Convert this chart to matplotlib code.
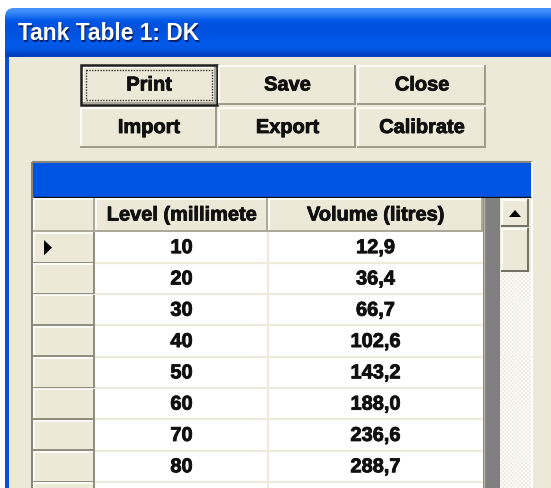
import numpy as np
import matplotlib.pyplot as plt
import matplotlib.patheffects as pe
from matplotlib.colors import LinearSegmentedColormap, ListedColormap
from matplotlib.patches import Rectangle, FancyBboxPatch, Polygon

# table contents
button_labels = [["Print", "Save", "Close"],
                 ["Import", "Export", "Calibrate"]]
col_headers = ["Level (millimete", "Volume (litres)"]
levels = [10, 20, 30, 40, 50, 60, 70, 80]
volumes = [12.9, 36.4, 66.7, 102.6, 143.2, 188.0, 236.6, 288.7]
title = "Tank Table 1: DK"

BEIGE = '#ECE9D8'
SHADOW = '#ACA899'
DARK = '#716F64'
BLUE = '#0054E3'
GRIDLINE = '#EEEBDD'
INK = '#101010'
heavy = [pe.withStroke(linewidth=0.6, foreground=INK)]

plt.rcParams['font.family'] = ['Liberation Sans', 'DejaVu Sans']

fig = plt.figure(figsize=(5.51, 4.88), dpi=100)
ax = fig.add_axes([0, 0, 1, 1])
ax.set_xlim(0, 551)
ax.set_ylim(488, 0)
ax.axis('off')


# everything on zorder 1 so it is painted in the order it is added
def hline(x0, x1, y, c, lw=1.0):
    ax.plot([x0, x1], [y, y], color=c, lw=lw, solid_capstyle='butt', zorder=1)


def vline(x, y0, y1, c, lw=1.0):
    ax.plot([x, x], [y0, y1], color=c, lw=lw, solid_capstyle='butt', zorder=1)


def box3d(x0, y0, x1, y1, fill=BEIGE, dark=SHADOW):
    ax.add_patch(Rectangle((x0, y0), x1 - x0, y1 - y0, fc=fill, ec='none'))
    hline(x0, x1, y0 + 0.8, 'white', 1.2)
    vline(x0 + 0.8, y0, y1, 'white', 1.2)
    hline(x0, x1, y1 - 0.8, dark, 1.4)
    vline(x1 - 0.8, y0, y1, dark, 1.4)


def label(x, y, s):
    ax.text(x, y, s, fontsize=14.4, fontweight='bold', ha='center',
            va='center', color=INK, path_effects=heavy)


# window background
ax.add_patch(Rectangle((0, 0), 551, 488, fc='white', ec='none'))
ax.add_patch(Rectangle((5, 40), 546, 448, fc=BEIGE, ec='none'))
ax.add_patch(Rectangle((5, 40), 4, 448, fc='#0A4FD8', ec='none'))

# title bar with gradient and rounded corner
grad = np.array([[0.95], [0.75], [0.5], [0.42], [0.42], [0.45], [0.5], [0.52],
                 [0.45], [0.2]])
cmap = LinearSegmentedColormap.from_list('xp', ['#0030A8', '#0058E8', '#4A98FA'])
clip = FancyBboxPatch((5, 8), 600, 80, boxstyle='round,pad=0,rounding_size=9',
                      fc='none', ec='none')
ax.add_patch(clip)
im = ax.imshow(grad, extent=(5, 560, 57, 8), aspect='auto', cmap=cmap,
               vmin=0, vmax=1, interpolation='bilinear', zorder=1)
im.set_clip_path(clip)
ax.text(19.2, 35.2, title, color='#0A1E6A', fontsize=16.4, fontweight='bold',
        va='center', ha='left')
ax.text(18, 34, title, color='white', fontsize=16.4, fontweight='bold',
        va='center', ha='left')

# buttons
btn_x = [80, 218, 357, 487]
btn_y = [64, 106, 149]
for r, row in enumerate(button_labels):
    for c, lab in enumerate(row):
        x0, x1 = btn_x[c], btn_x[c + 1]
        y0, y1 = btn_y[r], btn_y[r + 1]
        if r == 0 and c == 0:
            box3d(x0 + 2, y0 + 2, x1 - 2, y1 - 2, dark=SHADOW)
            ax.add_patch(Rectangle((x0 + 0.8, y0 + 0.8), x1 - x0 - 2, y1 - y0 - 2,
                                   fc='none', ec='#202020', lw=1.8))
            ax.add_patch(Rectangle((x0 + 6, y0 + 6), x1 - x0 - 12, y1 - y0 - 12,
                                   fc='none', ec='#333333', lw=1.0,
                                   ls=(0, (1, 1))))
        else:
            box3d(x0, y0 + 1, x1 - 1, y1 - 1, dark='#9D9A8A')
        label((x0 + x1) / 2, (y0 + y1) / 2, lab)

# grid outer frame and blue band
gx0, gx1 = 32, 532
ax.add_patch(Rectangle((gx0, 162), gx1 - gx0, 330, fc='white', ec='none'))
hline(gx0, gx1, 162, '#8A877A', 1.5)
vline(gx0, 162, 488, '#8A877A', 1.5)
vline(gx1, 162, 488, 'white', 1.5)
ax.add_patch(Rectangle((gx0 + 1, 163), 498, 34, fc=BLUE, ec='none'))
hline(gx0 + 1, 531, 197, INK, 1.0)

# columns and rows
cx = [33, 95, 268, 483]
row_top = 232
row_h = 31.3
n_rows = len(levels) + 1

# header row
box3d(cx[0], 198, cx[1], row_top)
for i, h in enumerate(col_headers):
    box3d(cx[i + 1], 198, cx[i + 2], row_top)
    label((cx[i + 1] + cx[i + 2]) / 2, 215, h)

# data rows
for k in range(n_rows):
    y0 = row_top + k * row_h
    y1 = y0 + row_h
    box3d(cx[0], y0, cx[1], y1, dark='#8F8C7E')
    hline(cx[1], cx[3], y1 - 0.5, GRIDLINE, 1.6)
    vline(cx[2], y0, y1, GRIDLINE, 1.6)
    if k < len(levels):
        yc = (y0 + y1) / 2
        label((cx[1] + cx[2]) / 2, yc, str(levels[k]))
        label((cx[2] + cx[3]) / 2, yc, f"{volumes[k]:.1f}".replace('.', ','))
    if k == 0:
        ax.add_patch(Polygon([[44, y0 + 8], [44, y1 - 8], [52, (y0 + y1) / 2]],
                             closed=True, fc='black', ec='none'))

# grey strip right of the last column
ax.add_patch(Rectangle((483, 198), 17, 300, fc='#808080', ec='none'))
vline(483.5, 198, 488, '#B8B5A8', 1.0)

# scrollbar
chk = np.indices((110, 16)).sum(axis=0) % 2
ax.imshow(chk, extent=(500, 531, 488, 272),
          cmap=ListedColormap(['#EFEDE3', '#FCFCFA']),
          interpolation='nearest', aspect='auto', zorder=1)
ax.add_patch(Rectangle((500, 198), 31, 74, fc=BEIGE, ec='none'))
box3d(501, 199, 529, 227, dark=DARK)
ax.add_patch(Polygon([[509, 217], [521, 217], [515, 210]], closed=True,
                     fc='black', ec='none'))
box3d(501, 228, 529, 272, dark=DARK)

ax.set_xlim(0, 551)
ax.set_ylim(488, 0)
fig.savefig('out.png', dpi=100)
